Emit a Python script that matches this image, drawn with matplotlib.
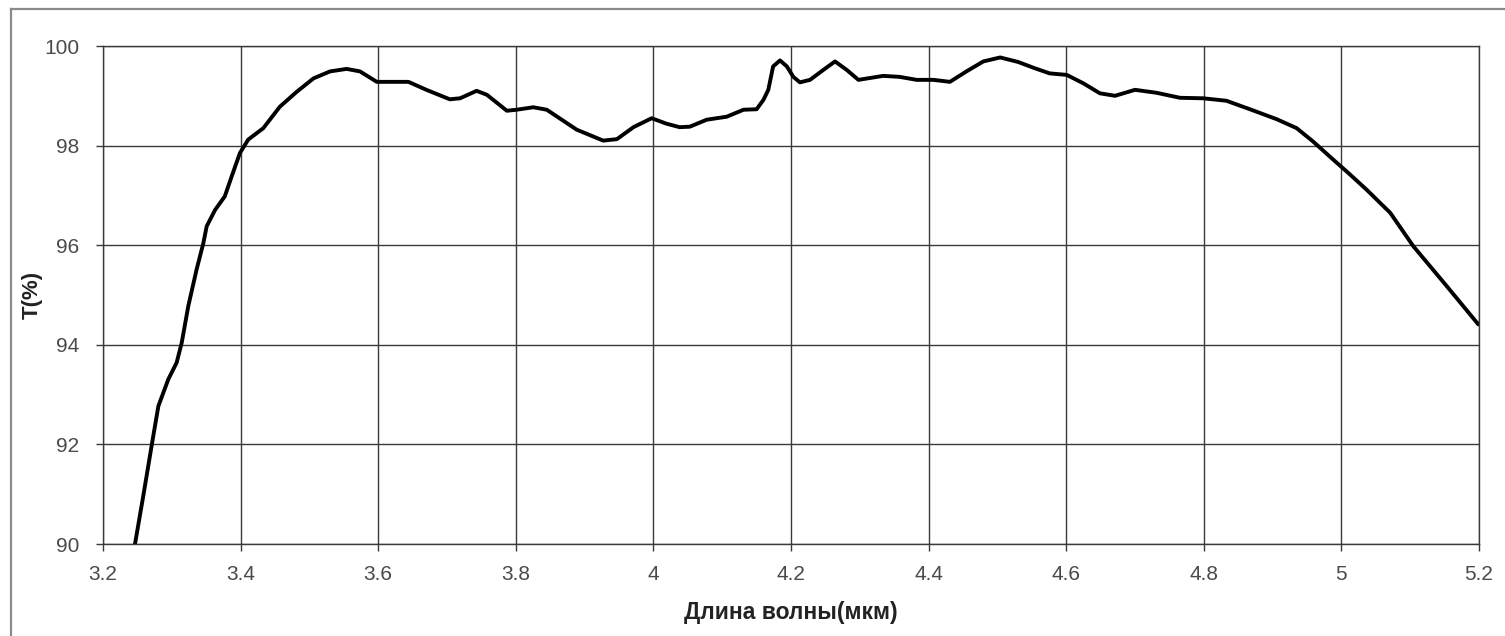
import matplotlib.pyplot as plt
from matplotlib.lines import Line2D

plt.rcParams['font.family'] = ['Liberation Sans', 'DejaVu Sans']

# длина волны (мкм) и пропускание T (%)
wavelength = [3.2465, 3.2586, 3.271, 3.2805, 3.295, 3.307, 3.3144, 3.324, 3.336, 3.346,
              3.3507, 3.363, 3.377, 3.387, 3.399, 3.411, 3.433, 3.457, 3.4815, 3.506,
              3.53, 3.554, 3.5735, 3.598, 3.644, 3.670, 3.704, 3.719, 3.743, 3.758,
              3.787, 3.801, 3.8255, 3.845, 3.8885, 3.927, 3.947, 3.971, 3.9975, 4.019,
              4.038, 4.053, 4.0775, 4.1065, 4.131, 4.150, 4.160, 4.167, 4.174, 4.184,
              4.194, 4.2034, 4.213, 4.2276, 4.247, 4.264, 4.281, 4.298, 4.334, 4.358,
              4.3826, 4.407, 4.431, 4.455, 4.4795, 4.504, 4.53, 4.555, 4.576, 4.6007,
              4.625, 4.649, 4.671, 4.70, 4.7315, 4.7654, 4.799, 4.833, 4.867, 4.906,
              4.935, 4.959, 4.988, 5.0125, 5.037, 5.071, 5.1045, 5.153, 5.199]
transmission = [90.0, 90.97, 92.0, 92.77, 93.31, 93.64, 94.04, 94.78, 95.51, 96.05,
                96.38, 96.71, 96.98, 97.38, 97.85, 98.12, 98.35, 98.78, 99.08, 99.35,
                99.49, 99.54, 99.49, 99.28, 99.28, 99.12, 98.93, 98.95, 99.10, 99.02,
                98.70, 98.72, 98.77, 98.72, 98.32, 98.10, 98.13, 98.37, 98.55, 98.44,
                98.37, 98.38, 98.52, 98.58, 98.72, 98.73, 98.92, 99.12, 99.59, 99.71,
                99.59, 99.38, 99.27, 99.32, 99.52, 99.69, 99.52, 99.32, 99.40, 99.38,
                99.32, 99.32, 99.28, 99.49, 99.69, 99.77, 99.68, 99.55, 99.45, 99.42,
                99.25, 99.05, 99.00, 99.12, 99.06, 98.96, 98.95, 98.90, 98.73, 98.53,
                98.35, 98.08, 97.72, 97.42, 97.11, 96.65, 95.98, 95.18, 94.41]

x_ticks = [3.2, 3.4, 3.6, 3.8, 4.0, 4.2, 4.4, 4.6, 4.8, 5.0, 5.2]
x_tick_labels = ['3.2', '3.4', '3.6', '3.8', '4', '4.2', '4.4', '4.6', '4.8', '5', '5.2']
y_ticks = [90, 92, 94, 96, 98, 100]

fig = plt.figure(figsize=(15.05, 6.36), dpi=100)
ax = fig.add_axes([103 / 1505, 92 / 636, (1479 - 103) / 1505, (544 - 46) / 636])

grid_c = '#3a3a3a'
ax.plot(wavelength, transmission, color='black', linewidth=2.8,
        solid_capstyle='round', solid_joinstyle='round')

ax.set_xlim(3.2, 5.2)
ax.set_ylim(90, 100)
ax.set_xticks(x_ticks)
ax.set_xticklabels(x_tick_labels)
ax.set_yticks(y_ticks)
ax.grid(True, color=grid_c, linewidth=1.0)
ax.set_axisbelow(True)
for s in ax.spines.values():
    s.set_color(grid_c)
    s.set_linewidth(1.0)
ax.tick_params(axis='both', direction='out', length=5, width=1.0, color=grid_c,
               labelsize=15, labelcolor='#4a4a4a')
ax.tick_params(axis='x', pad=10)
ax.tick_params(axis='y', pad=12)

ax.set_xlabel('Длина волны(мкм)', fontsize=16.5, fontweight='bold', color='#222222', labelpad=12)
ax.set_ylabel('T(%)', fontsize=16, fontweight='bold', color='#222222', va='center')
ax.yaxis.set_label_coords(-0.0516, 0.5)

# рамка вокруг всей диаграммы
fig.add_artist(Line2D([11 / 1505, 1.0], [1 - 9 / 636, 1 - 9 / 636], color='#8a8a8a', linewidth=1.6))
fig.add_artist(Line2D([11 / 1505, 11 / 1505], [0.0, 1 - 9 / 636], color='#8a8a8a', linewidth=1.6))

plt.savefig('out.png', dpi=100)
